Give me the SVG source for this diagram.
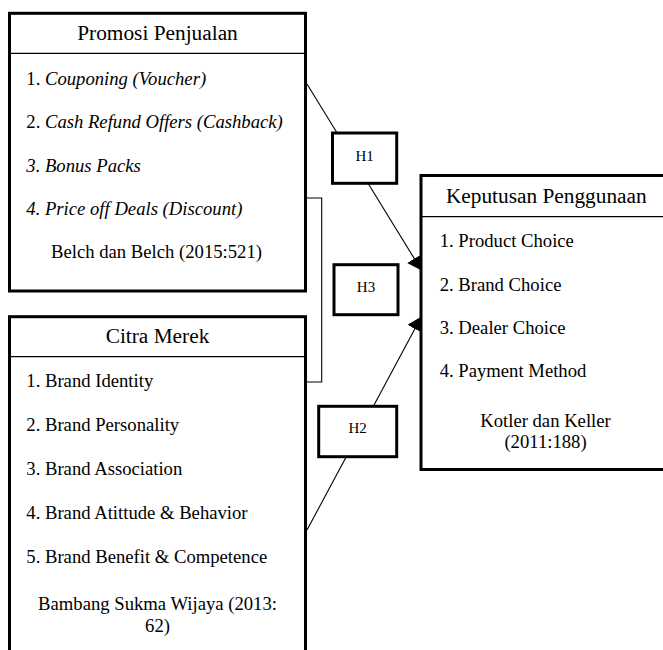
<svg xmlns="http://www.w3.org/2000/svg" width="663" height="650" viewBox="0 0 663 650">
<style>
text{font-family:"Liberation Serif","Times New Roman",serif;fill:#000}
.t{font-size:21.33px;text-anchor:middle}
.i{font-size:18.67px}
.c{font-size:18.67px;text-anchor:middle}
.h{font-size:15px;text-anchor:middle}
.it{font-style:italic}
.box{fill:#fff;stroke:#000;stroke-width:3}
.div{stroke:#000;stroke-width:1.3;fill:none}
.conn{stroke:#000;stroke-width:1.1;fill:none}
</style>
<defs>
<marker id="arr" viewBox="0 0 14 17" refX="14" refY="8.5" markerWidth="14" markerHeight="17" markerUnits="userSpaceOnUse" orient="auto">
<path d="M0,0 L14,8.5 L0,17 z" fill="#000"/>
</marker>
</defs>
<rect width="663" height="650" fill="#fff"/>
<g id="connectors">
<line class="conn" x1="307" y1="84" x2="421.7" y2="270.6" marker-end="url(#arr)"/>
<line class="conn" x1="307" y1="530" x2="421.5" y2="316.5" marker-end="url(#arr)"/>
<path class="conn" d="M307,198 H321.7 V382 H307"/>
</g>
<g id="promosi">
<rect class="box" x="9.5" y="13.3" width="296" height="277.7"/>
<line class="div" x1="9.5" y1="53.3" x2="305.5" y2="53.3"/>
<text class="t" x="157.5" y="39.5">Promosi Penjualan</text>
<text class="i" x="26.3" y="85">1. <tspan class="it">Couponing (Voucher)</tspan></text>
<text class="i" x="26.3" y="128.3">2. <tspan class="it">Cash Refund Offers (Cashback)</tspan></text>
<text class="i it" x="26.3" y="171.7">3. Bonus Packs</text>
<text class="i it" x="26.3" y="215">4. Price off Deals (Discount)</text>
<text class="c" x="156.5" y="258.3">Belch dan Belch (2015:521)</text>
</g>
<g id="citra">
<rect class="box" x="9.5" y="316.7" width="296" height="350"/>
<line class="div" x1="9.5" y1="356.7" x2="305.5" y2="356.7"/>
<text class="t" x="157.5" y="343.3">Citra Merek</text>
<text class="i" x="26.3" y="387.3">1. Brand Identity</text>
<text class="i" x="26.3" y="431">2. Brand Personality</text>
<text class="i" x="26.3" y="475">3. Brand Association</text>
<text class="i" x="26.3" y="519">4. Brand Atittude &amp; Behavior</text>
<text class="i" x="26.3" y="563.3">5. Brand Benefit &amp; Competence</text>
<text class="c" x="157.5" y="609.5">Bambang Sukma Wijaya (2013:</text>
<text class="c" x="157.5" y="631.5">62)</text>
</g>
<g id="keputusan">
<rect class="box" x="421" y="175.5" width="260" height="294"/>
<line class="div" x1="421" y1="216.7" x2="681" y2="216.7"/>
<text class="t" x="546.3" y="203.3">Keputusan Penggunaan</text>
<text class="i" x="439.7" y="246.7">1. Product Choice</text>
<text class="i" x="439.7" y="290.7">2. Brand Choice</text>
<text class="i" x="439.7" y="334">3. Dealer Choice</text>
<text class="i" x="439.7" y="377.3">4. Payment Method</text>
<text class="c" x="545.5" y="426.7">Kotler dan Keller</text>
<text class="c" x="545.5" y="447.5">(2011:188)</text>
</g>
<g id="h1">
<rect class="box" x="332.5" y="133" width="64.2" height="50.3"/>
<text class="h" x="364.6" y="160.7">H1</text>
</g>
<g id="h3">
<rect class="box" x="334" y="264.7" width="64" height="50"/>
<text class="h" x="366" y="292">H3</text>
</g>
<g id="h2">
<rect class="box" x="318.7" y="406.3" width="78" height="50.4"/>
<text class="h" x="357.7" y="433.3">H2</text>
</g>
</svg>
